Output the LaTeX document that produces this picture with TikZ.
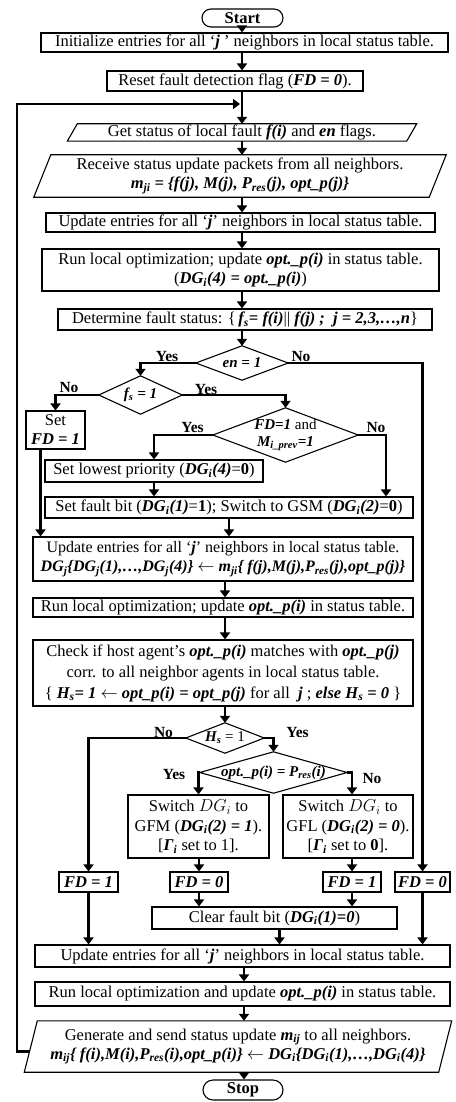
\documentclass[tikz,border=0pt]{standalone}
\usepackage{fontspec}
\setmainfont{Liberation Serif}
\usetikzlibrary{arrows.meta}
\newcommand{\bi}[1]{\textbf{\textit{#1}}}
\newcommand{\sbs}[1]{\textsubscript{#1}}
\begin{document}
\begin{tikzpicture}[x=1pt,y=-1pt,
  txt/.style={inner sep=0pt, align=center, font=\fontsize{16.5}{19}\selectfont},
  box/.style={txt, draw, line width=1.1pt},
  term/.style={box, rounded corners=9pt},
  plain/.style={txt},
  dtxt/.style={inner sep=0pt, align=center, font=\fontsize{15}{17}\selectfont},
  shp/.style={line width=1.1pt},
  flow/.style={line width=2.4pt, -{Triangle[width=10pt,length=7pt]}},
  lbl/.style={inner sep=0pt, font=\bfseries\fontsize{15.5}{16}\selectfont}]
\useasboundingbox (0,0) rectangle (455,1102);
\coordinate (T) at (242,0);
\coordinate (T2) at (225,0);
\coordinate (T3) at (244,0);
\coordinate (loopx) at (17,0);
\coordinate (loopin) at (240,104);

% nodes
\node[term, minimum width=81, minimum height=18] (start) at (242.5,18) {\textbf{Start}};
\node[box, minimum width=407, minimum height=19] (init) at (244.5,42.5) {Initialize entries for all `\bi{j} ' neighbors in local status table.};
\node[box, minimum width=256, minimum height=20] (reset) at (235,81) {Reset fault detection flag (\bi{FD = 0}).};
\node[plain, minimum width=339, minimum height=17] (get) at (242,132.5) {Get status of local fault \bi{f(i)} and \bi{en} flags.};
\draw[shp] ([xshift=5]get.north west) -- ([xshift=5]get.north east) -- ([xshift=-5]get.south east) -- ([xshift=-5]get.south west) -- cycle;
\node[plain, minimum width=395, minimum height=42] (recv) at (240,176) {Receive status update packets from all neighbors.\\ \bi{m\sbs{ji} = \{f(j), M(j), P\sbs{res}(j), opt\_p(j)\}}};
\draw[shp] ([xshift=8.5]recv.north west) -- ([xshift=8.5]recv.north east) -- ([xshift=-8.5]recv.south east) -- ([xshift=-8.5]recv.south west) -- cycle;
\node[box, minimum width=389, minimum height=19] (upd1) at (240.5,222.5) {Update entries for all `\bi{j}' neighbors in local status table.};
\node[box, minimum width=397, minimum height=42] (run1) at (240.5,270) {Run local optimization; update \bi{opt.\_p(i)} in status table.\\ (\bi{DG\sbs{i}(4) = opt.\_p(i)})};
\node[box, minimum width=374, minimum height=21] (det) at (245,319.5) {Determine fault status: \{\,\bi{f\sbs{s}= f(i)}|| \bi{f(j) ;\ \ j = 2,3,\ldots,n}\}};

\node[dtxt, minimum width=92, minimum height=34] (en) at (242,363) {\bi{en = 1}};
\draw[shp] (en.north) -- (en.east) -- (en.south) -- (en.west) -- cycle;
\node[dtxt, minimum width=83, minimum height=38] (fs) at (140.5,395) {\bi{f\sbs{s} = 1}};
\draw[shp] (fs.north) -- (fs.east) -- (fs.south) -- (fs.west) -- cycle;
\node[box, minimum width=59, minimum height=38] (setfd) at (55.5,430) {Set\\ \bi{FD = 1}};
\node[dtxt, minimum width=145, minimum height=54] (fdm) at (285.5,435) {\bi{FD=1} and\\ \bi{M\sbs{i\_prev}=1}};
\draw[shp] (fdm.north) -- (fdm.east) -- (fdm.south) -- (fdm.west) -- cycle;
\node[box, minimum width=218, minimum height=22] (low) at (154,471) {Set lowest priority (\bi{DG\sbs{i}(4)}=\textbf{0})};
\node[box, minimum width=368, minimum height=21] (sfb) at (229,507.5) {Set fault bit (\bi{DG\sbs{i}(1)}=\textbf{1}); Switch to GSM (\bi{DG\sbs{i}(2)}=\textbf{0})};
\node[box, minimum width=380, minimum height=44, font=\fontsize{16}{19}\selectfont] (upd2) at (223,559) {Update entries for all `\bi{j}' neighbors in local status table.\\ \bi{DG\sbs{j}\{DG\sbs{j}(1),\ldots,DG\sbs{j}(4)\}} $\leftarrow$ \bi{m\sbs{ji}\{ f(j),M(j),P\sbs{res}(j),opt\_p(j)\}}};
\node[box, minimum width=380, minimum height=19] (run2) at (223,607.5) {Run local optimization; update \bi{opt.\_p(i)} in status table.};
\node[box, minimum width=380, minimum height=66, font=\fontsize{16.5}{21}\selectfont] (chk) at (223,673) {Check if host agent's \bi{opt.\_p(i)} matches with \bi{opt.\_p(j)}\\ corr. to all neighbor agents in local status table.\\ \{ \bi{H\sbs{s}= 1} $\leftarrow$ \bi{opt\_p(i) = opt\_p(j)} for all \ \bi{j} ; \bi{else H\sbs{s} = 0} \}};
\node[dtxt, minimum width=78, minimum height=30] (hs) at (225,738) {\bi{H\sbs{s}} = 1};
\draw[shp] (hs.north) -- (hs.east) -- (hs.south) -- (hs.west) -- cycle;
\node[dtxt, minimum width=147, minimum height=41] (opt) at (273.5,772.5) {\bi{opt.\_p(i) = P\sbs{res}(i)}};
\draw[shp] (opt.north) -- (opt.east) -- (opt.south) -- (opt.west) -- cycle;
\node[box, minimum width=141, minimum height=63, font=\fontsize{16.5}{19.5}\selectfont] (gfm) at (198.5,826.5) {Switch $DG_i$ to\\ GFM (\bi{DG\sbs{i}(2) = 1}).\\ {[}\bi{Γ\sbs{i}} set to 1].};
\node[box, minimum width=130, minimum height=63, font=\fontsize{16.5}{19.5}\selectfont] (gfl) at (348,826.5) {Switch $DG_i$ to\\ GFL (\bi{DG\sbs{i}(2) = 0}).\\ {[}\bi{Γ\sbs{i}} set to \textbf{0}].};
\node[box, minimum width=59, minimum height=20] (fd1a) at (88.5,882) {\bi{FD = 1}};
\node[box, minimum width=58, minimum height=20] (fd0a) at (199,882) {\bi{FD = 0}};
\node[box, minimum width=58, minimum height=20] (fd1b) at (352,882) {\bi{FD = 1}};
\node[box, minimum width=55, minimum height=20] (fd0b) at (422.5,882) {\bi{FD = 0}};
\node[box, minimum width=245, minimum height=22] (clr) at (274.5,918) {Clear fault bit (\bi{DG\sbs{i}(1)=0})};
\node[box, minimum width=415, minimum height=22] (upd3) at (242.5,956) {Update entries for all `\bi{j}' neighbors in local status table.};
\node[box, minimum width=415, minimum height=24] (run3) at (242.5,994) {Run local optimization and update \bi{opt.\_p(i)} in status table.};
\node[plain, minimum width=414, minimum height=51] (gen) at (238,1046.5) {Generate and send status update \bi{m\sbs{ij}} to all neighbors.\\ \bi{m\sbs{ij}\{ f(i),M(i),P\sbs{res}(i),opt\_p(i)\}} $\leftarrow$ \bi{DG\sbs{i}\{DG\sbs{i}(1),\ldots,DG\sbs{i}(4)\}}};
\draw[shp] ([xshift=6.5]gen.north west) -- ([xshift=6.5]gen.north east) -- ([xshift=-6.5]gen.south east) -- ([xshift=-6.5]gen.south west) -- cycle;
\node[term, minimum width=80, minimum height=20, rounded corners=10pt] (stop) at (243,1090) {\textbf{Stop}};

% connectors
\draw[flow] (start.south -| T) -- (init.north -| T);
\draw[flow] (init.south -| T) -- (reset.north -| T);
\draw[flow] (reset.south -| T) -- (get.north -| T);
\draw[flow] (get.south -| T) -- (recv.north -| T);
\draw[flow] (recv.south -| T) -- (upd1.north -| T);
\draw[flow] (upd1.south -| T) -- (run1.north -| T);
\draw[flow] (run1.south -| T) -- (det.north -| T);
\draw[flow] (det.south -| en.north) -- (en.north);
\draw[flow] (en.west) -| (fs.north);
\draw[flow] (en.east) -| (fd0b.north);
\draw[flow] (fs.west) -| (setfd.north);
\draw[flow] (fs.east) -| (fdm.north);
\draw[flow] (fdm.west) -| (low.north);
\draw[flow] (fdm.east) -| ([xshift=157]sfb.north);
\draw[flow] (low.south) -- (low.south |- sfb.north);
\draw[flow] ([xshift=-15]setfd.south) -- ([xshift=-15]setfd.south |- upd2.north);
\draw[flow] (sfb.south) -- (sfb.south |- upd2.north);
\draw[flow] (upd2.south -| T2) -- (run2.north -| T2);
\draw[flow] (run2.south -| T2) -- (chk.north -| T2);
\draw[flow] (chk.south -| hs.north) -- (hs.north);
\draw[flow] (hs.west) -| (fd1a.north);
\draw[flow] (hs.east) -| (opt.north);
\draw[flow] (opt.west) -| (gfm.north);
\draw[flow] (opt.east) -| (fd1b.north |- gfl.north);
\draw[flow] (fd0a.north |- gfm.south) -- (fd0a.north);
\draw[flow] (fd1b.north |- gfl.south) -- (fd1b.north);
\draw[flow] (fd1a.south) -- (fd1a.south |- upd3.north);
\draw[flow] (fd0a.south) -- (fd0a.south |- clr.north);
\draw[flow] (fd1b.south) -- (fd1b.south |- clr.north);
\draw[flow] ([xshift=5]clr.south) -- ([xshift=5]clr.south |- upd3.north);
\draw[flow] (fd0b.south) -- (fd0b.south |- upd3.north);
\draw[flow] (upd3.south -| T3) -- (run3.north -| T3);
\draw[flow] (run3.south -| T3) -- (gen.north -| T3);
\draw[flow] (gen.south -| T3) -- (stop.north -| T3);
\draw[flow] ([xshift=-1,yshift=-5]gen.west) -| (loopx |- loopin) -- (loopin);

% labels
\node[lbl] (l1) at (167,356) {Yes};
\node[lbl] (l2) at (301,356) {No};
\node[lbl] (l3) at (69,387) {No};
\node[lbl] (l4) at (206,389) {Yes};
\node[lbl] (l5) at (192.5,427) {Yes};
\node[lbl] (l6) at (376,427) {No};
\node[lbl] (l7) at (163.5,732) {No};
\node[lbl] (l8) at (297.5,732) {Yes};
\node[lbl] (l9) at (174,774) {Yes};
\node[lbl] (l10) at (372,778) {No};
\end{tikzpicture}
\end{document}
